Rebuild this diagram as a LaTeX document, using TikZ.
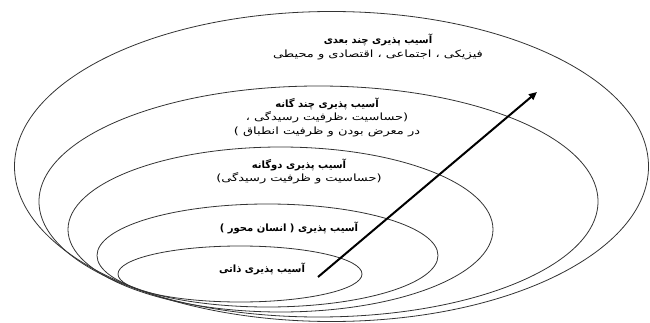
\documentclass[tikz,border=0pt]{standalone}
\usepackage{fontspec}
\newfontfamily\persianfont[Script=Arabic]{DejaVu Sans}
\newfontfamily\persianwide[Script=Arabic,FakeStretch=1.3]{DejaVu Sans}
\TeXXeTstate=1
\usetikzlibrary{arrows.meta}
\newcommand{\rtl}[1]{\beginR #1\endR}
\newcommand{\head}[1]{{\persianfont\bfseries\beginR #1\endR}}
\newcommand{\sub}[1]{{\persianwide\beginR #1\endR}}

\begin{document}
\begin{tikzpicture}[x=1pt,y=-1pt,
  ring/.style={draw=black!80,line width=0.8pt},
  lbl/.style={font=\fontsize{10}{13.5}\selectfont,align=center,inner sep=0pt}]
\useasboundingbox (0,0) rectangle (650,323);
% rings, outermost first
\draw[ring] (331.5,166.5) ellipse [x radius=317,y radius=155];
\draw[ring] (318.5,201.5) ellipse [x radius=279.5,y radius=115.5];
\draw[ring] (280.5,229.5) ellipse [x radius=212.5,y radius=82.5];
\draw[ring] (267.5,255.5) ellipse [x radius=170.5,y radius=51.5];
\draw[ring] (240,274) ellipse [x radius=122,y radius=28];
% labels
\node[lbl] (multidim) at (378,47) {\head{آسیب پذیری چند بعدی}\\
  \sub{فیزیکی ، اجتماعی ، اقتصادی و محیطی}};
\node[lbl] (multiple) at (327,117) {\head{آسیب پذیری چند گانه}\\
  \sub{(حساسیت ،ظرفیت رسیدگی ،}\\
  \sub{در معرض بودن  و ظرفیت انطباق )}};
\node[lbl] (dual) at (299,171.5) {\head{آسیب پذیری دوگانه}\\
  \sub{(حساسیت و ظرفیت رسیدگی)}};
\node[lbl] (human) at (289,228) {\head{آسیب پذیری ( انسان محور )}};
\node[lbl] (inherent) at (262,269) {\head{آسیب پذیری ذاتی}};
% arrow
\coordinate (base) at (318,277);
\coordinate (tip) at (537,92);
\draw[line width=2pt,-{Triangle[length=8pt,width=7pt]}] (base) -- (tip);
\end{tikzpicture}
\end{document}
